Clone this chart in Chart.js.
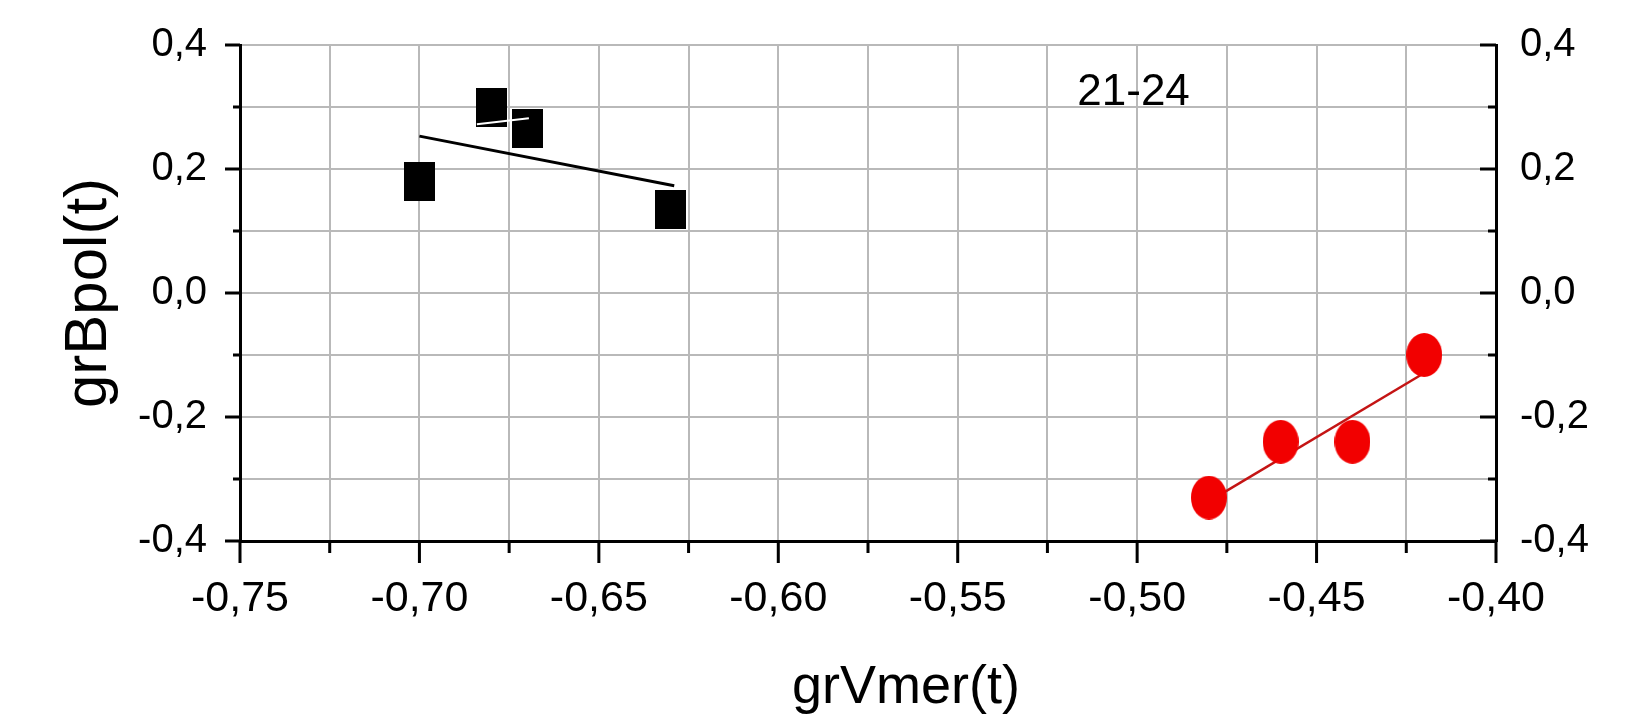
<!DOCTYPE html>
<html>
<head>
<meta charset="utf-8">
<script src="https://cdn.jsdelivr.net/npm/chart.js@4/dist/chart.umd.min.js"></script>
<style>
  body { margin: 0; background: #fff; }
  canvas { display: block; }
</style>
</head>
<body>
<canvas id="chart" width="1625" height="716"></canvas>
<script>
// data
const blackX = [-0.70, -0.68, -0.67, -0.63];
const blackY = [0.18, 0.30, 0.265, 0.135];
const redX = [-0.48, -0.46, -0.44, -0.42];
const redY = [-0.33, -0.24, -0.24, -0.10];

const blackFitX = [-0.70, -0.629];
const blackFitY = [0.253, 0.173];
const redFitX = [-0.48, -0.42];
const redFitY = [-0.336, -0.129];
const whiteSegX = [-0.684, -0.6695];
const whiteSegY = [0.272, 0.282];

const xTickLabels = ['-0,75', '-0,70', '-0,65', '-0,60', '-0,55', '-0,50', '-0,45', '-0,40'];
const yTickLabels = ['-0,4', '-0,2', '0,0', '0,2', '0,4'];
const xMin = -0.75, xMax = -0.40;
const yMin = -0.4, yMax = 0.4;

const annoText = '21-24';
const annoX = -0.501;
const annoY = 0.323;

const FONT = "'Liberation Sans', Arial, sans-serif";

function pts(xs, ys) {
    return xs.map((x, i) => ({ x: x, y: ys[i] }));
}

function makeMarker(w, h, color, round) {
    const c = document.createElement('canvas');
    c.width = w;
    c.height = h;
    const g = c.getContext('2d');
    g.fillStyle = color;
    if (round) {
        g.beginPath();
        g.ellipse(w / 2, h / 2, w / 2, h / 2, 0, 0, Math.PI * 2);
        g.fill();
    } else {
        g.fillRect(0, 0, w, h);
    }
    return c;
}

const squareMarker = makeMarker(31, 39, '#000000', false);
const circleMarker = makeMarker(36, 44, '#f20000', true);

// tick marks: major ones carry a label, right axis ticks point inward
const tickMarks = {
    id: 'tickMarks',
    afterDraw(chart) {
        const ctx = chart.ctx;
        const area = chart.chartArea;
        const { x, y, y2 } = chart.scales;
        ctx.save();
        ctx.strokeStyle = '#000';
        ctx.lineWidth = 3;
        ctx.beginPath();
        x.ticks.forEach((t, i) => {
            const px = x.getPixelForValue(t.value);
            const len = i % 2 === 0 ? 22 : 12;
            ctx.moveTo(px, area.bottom);
            ctx.lineTo(px, area.bottom + len);
        });
        y.ticks.forEach((t, i) => {
            const py = y.getPixelForValue(t.value);
            const len = i % 2 === 0 ? 15 : 7;
            ctx.moveTo(area.left, py);
            ctx.lineTo(area.left - len, py);
        });
        y2.ticks.forEach((t, i) => {
            const py = y2.getPixelForValue(t.value);
            const len = i % 2 === 0 ? 16 : 8;
            ctx.moveTo(area.right, py);
            ctx.lineTo(area.right - len, py);
        });
        ctx.stroke();

        // x title and the period label
        ctx.fillStyle = '#000';
        ctx.textAlign = 'center';
        ctx.textBaseline = 'alphabetic';
        ctx.font = '54px ' + FONT;
        ctx.fillText('grVmer(t)', 906, 703);
        ctx.textBaseline = 'middle';
        ctx.font = '44px ' + FONT;
        ctx.fillText(annoText, x.getPixelForValue(annoX), y.getPixelForValue(annoY));
        ctx.restore();
    }
};

const yAxisCommon = {
    type: 'linear',
    min: yMin,
    max: yMax,
    border: { color: '#000', width: 3 },
    ticks: {
        stepSize: 0.1,
        padding: 0,
        color: '#000',
        font: { size: 40, family: FONT },
        callback: (v, i) => (i % 2 === 0 ? yTickLabels[i / 2] : '')
    }
};

new Chart(document.getElementById('chart'), {
    type: 'scatter',
    data: {
        datasets: [
            {
                data: pts(whiteSegX, whiteSegY),
                showLine: true,
                borderColor: '#ffffff',
                borderWidth: 2,
                pointRadius: 0,
                order: 0
            },
            {
                data: pts(blackX, blackY),
                pointStyle: squareMarker,
                order: 1
            },
            {
                data: pts(redX, redY),
                pointStyle: circleMarker,
                order: 1
            },
            {
                data: pts(blackFitX, blackFitY),
                showLine: true,
                borderColor: '#000000',
                borderWidth: 3,
                pointRadius: 0,
                order: 2
            },
            {
                data: pts(redFitX, redFitY),
                showLine: true,
                borderColor: '#c41414',
                borderWidth: 2.5,
                pointRadius: 0,
                order: 2
            }
        ]
    },
    options: {
        responsive: false,
        animation: false,
        layout: { padding: { top: 45, left: 0, right: 0, bottom: 0 } },
        plugins: {
            legend: { display: false },
            tooltip: { enabled: false }
        },
        scales: {
            x: {
                type: 'linear',
                position: 'bottom',
                min: xMin,
                max: xMax,
                border: { color: '#000', width: 3 },
                grid: { color: '#b9b9b9', lineWidth: 2, drawTicks: false },
                ticks: {
                    stepSize: 0.025,
                    autoSkip: false,
                    maxRotation: 0,
                    padding: 32,
                    color: '#000',
                    font: { size: 43, family: FONT },
                    callback: (v, i) => (i % 2 === 0 ? xTickLabels[i / 2] : '')
                },
                afterFit(scale) { scale.height = 175; }
            },
            y: {
                ...yAxisCommon,
                position: 'left',
                // invisible tick length stands in for the label gap
                grid: { color: '#b9b9b9', lineWidth: 2, drawTicks: true, tickLength: 33, tickColor: 'rgba(0,0,0,0)' },
                title: {
                    display: true,
                    text: 'grBpol(t)',
                    color: '#000',
                    font: { size: 60, family: FONT },
                    padding: { top: 53, bottom: 0 }
                },
                afterFit(scale) { scale.width = 240; }
            },
            y2: {
                ...yAxisCommon,
                position: 'right',
                grid: { drawOnChartArea: false, drawTicks: true, tickLength: 24, tickColor: 'rgba(0,0,0,0)' },
                afterFit(scale) { scale.width = 129; }
            }
        }
    },
    plugins: [tickMarks]
});
</script>
</body>
</html>
